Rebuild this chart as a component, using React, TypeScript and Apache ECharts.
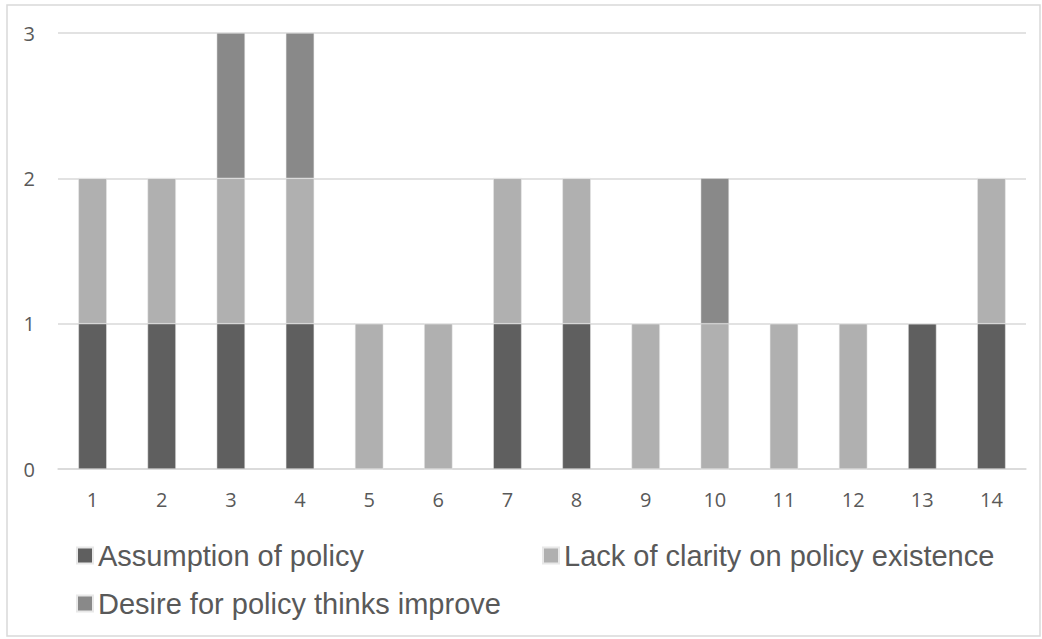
import React, { useEffect, useRef } from "react";
import * as echarts from "echarts";

const categories = ["1", "2", "3", "4", "5", "6", "7", "8", "9", "10", "11", "12", "13", "14"];
const assumption = [1, 1, 1, 1, 0, 0, 1, 1, 0, 0, 0, 0, 1, 1];
const lackClarity = [1, 1, 1, 1, 1, 1, 1, 1, 1, 1, 1, 1, 0, 1];
const desire = [0, 0, 1, 1, 0, 0, 0, 0, 0, 1, 0, 0, 0, 0];
const seriesNames = [
  "Assumption of policy",
  "Lack of clarity on policy existence",
  "Desire for policy thinks improve",
];
const colors = ["#5f5f5f", "#b0b0b0", "#898989"];

export default function App() {
  const ref = useRef<HTMLDivElement>(null);
  useEffect(() => {
    if (!ref.current) return;
    const chart = echarts.init(ref.current, null, { renderer: "svg" });
    const labelFont = "'Open Sans', 'Noto Sans', sans-serif";
    const legendText = {
      fontSize: 29,
      color: "#595959",
      fontFamily: "'Liberation Sans', Arial, sans-serif",
    };
    const mkLegend = (name: string, left: number, top: number) => ({
      data: [name],
      left,
      top,
      itemWidth: 16,
      itemHeight: 16,
      itemGap: 0,
      icon: "rect",
      textStyle: legendText,
      padding: 0,
      selectedMode: false,
    });
    const values = [assumption, lackClarity, desire];
    chart.setOption({
      animation: false,
      backgroundColor: "#ffffff",
      grid: { left: 58, right: 16, top: 33, bottom: 170, containLabel: false },
      xAxis: {
        type: "category",
        data: categories,
        axisLine: { lineStyle: { color: "#d9d9d9", width: 1.5 } },
        axisTick: { show: false },
        axisLabel: { color: "#595959", fontSize: 20, fontFamily: labelFont, margin: 20 },
      },
      yAxis: {
        type: "value",
        min: 0,
        max: 3,
        interval: 1,
        axisLine: { show: false },
        axisTick: { show: false },
        splitLine: { lineStyle: { color: "#d9d9d9", width: 1.5 } },
        axisLabel: { color: "#595959", fontSize: 20, fontFamily: labelFont, margin: 23 },
      },
      legend: [
        mkLegend(seriesNames[0], 76, 541),
        mkLegend(seriesNames[1], 542, 541),
        mkLegend(seriesNames[2], 76, 589),
      ],
      graphic: [
        {
          type: "rect",
          shape: { x: 7, y: 5, width: 1033, height: 631 },
          style: { fill: "none", stroke: "#d9d9d9", lineWidth: 1.5 },
          silent: true,
        },
      ],
      series: seriesNames.map((name, i) => ({
        name,
        type: "bar",
        stack: "total",
        data: values[i],
        barCategoryGap: "59%",
        itemStyle: { color: colors[i], borderColor: "#e8e8e8", borderWidth: 0.5 },
      })),
    });
    return () => chart.dispose();
  }, []);
  return (
    <div
      ref={ref}
      style={{ position: "absolute", left: 0, top: 0, width: 1042, height: 639 }}
    />
  );
}
